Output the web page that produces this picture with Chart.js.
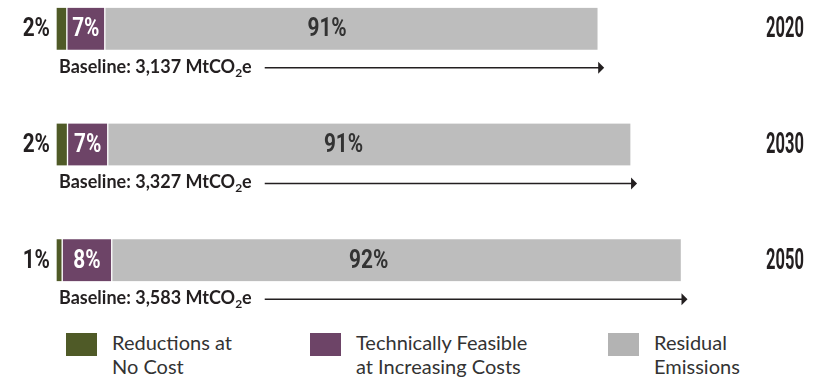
<!DOCTYPE html>
<html>
<head>
<meta charset="utf-8">
<script src="https://cdn.jsdelivr.net/npm/chart.js@4.4.1/dist/chart.umd.min.js"></script>
<style>
  body { margin: 0; background: #fff; width: 817px; height: 383px; overflow: hidden; position: relative; }
  #wrap { position: absolute; left: 0; top: -29px; width: 817px; height: 347px; }
  .key { position: absolute; top: 333px; font-family: Lato, 'Open Sans', sans-serif; font-size: 20px; line-height: 24px; color: #333; }
  .key span.sw { position: absolute; left: 0; top: 0; width: 31px; height: 23px; }
  .key div { position: absolute; left: 46px; top: -3px; white-space: nowrap; }
</style>
</head>
<body>
<div id="wrap"><canvas id="chart"></canvas></div>
<div id="legend"></div>
<script>
// Chart data
const years = ['2020', '2030', '2050'];
const seriesNames = ['Reductions at No Cost', 'Technically Feasible at Increasing Costs', 'Residual Emissions'];
const legendLines = [['Reductions at', 'No Cost'], ['Technically Feasible', 'at Increasing Costs'], ['Residual', 'Emissions']];
const baselines = [3137, 3327, 3583]; // MtCO2e
const noCostPct = [2, 2, 1];
const feasiblePct = [7, 7, 8];
const residualPct = [91, 91, 92];

const colors = ['#4f5a27', '#6d4467', '#bdbdbd'];
const legendColors = ['#4f5a27', '#6d4467', '#b3b3b3'];
const dark = '#231f20';

function share(pcts) {
    return baselines.map((b, i) => b * pcts[i] / 100);
}

// draw text squeezed horizontally (the original uses a condensed face)
function condensed(ctx, text, x, y, align, sx) {
    ctx.save();
    ctx.translate(x, y);
    ctx.scale(sx, 1);
    ctx.textAlign = align;
    ctx.fillText(text, 0, 0);
    ctx.restore();
}

// Percent labels, baseline text, arrows and year labels
const labelPlugin = {
    id: 'barLabels',
    afterDatasetsDraw(chart) {
        const ctx = chart.ctx;
        const ys = chart.scales.y;
        ctx.save();
        ctx.textBaseline = 'middle';
        years.forEach((yr, i) => {
            const green = chart.getDatasetMeta(0).data[i];
            const purple = chart.getDatasetMeta(1).data[i];
            const grey = chart.getDatasetMeta(2).data[i];

            ctx.font = 'bold 26px Roboto, sans-serif';
            ctx.fillStyle = dark;
            condensed(ctx, noCostPct[i] + '%', green.base - 6, green.y + 1, 'right', 0.8);
            ctx.fillStyle = '#fff';
            condensed(ctx, feasiblePct[i] + '%', (purple.base + purple.x) / 2, purple.y + 1, 'center', 0.8);
            ctx.fillStyle = '#333';
            condensed(ctx, residualPct[i] + '%', (green.base + grey.x) / 2, grey.y + 1, 'center', 0.8);

            // year on the right
            ctx.fillStyle = dark;
            ctx.font = 'bold 30px Roboto, sans-serif';
            condensed(ctx, yr, 766, ys.getPixelForValue(i) + 1, 'left', 0.55);

            // baseline label with subscript
            const ly = grey.y + grey.height / 2 + 17;
            let x = green.base + 3;
            ctx.textAlign = 'left';
            ctx.font = 'bold 18px Lato, sans-serif';
            const main = 'Baseline: ' + baselines[i].toLocaleString('en-US') + ' MtCO';
            ctx.fillText(main, x, ly);
            x += ctx.measureText(main).width;
            ctx.font = 'bold 12px Lato, sans-serif';
            ctx.fillText('2', x, ly + 6);
            x += ctx.measureText('2').width;
            ctx.font = 'bold 18px Lato, sans-serif';
            ctx.fillText('e', x, ly);
            x += ctx.measureText('e').width;

            const tip = grey.x + 6;
            ctx.strokeStyle = dark;
            ctx.lineWidth = 1.5;
            ctx.beginPath();
            ctx.moveTo(x + 13, ly + 1);
            ctx.lineTo(tip - 5, ly + 1);
            ctx.stroke();
            ctx.beginPath();
            ctx.moveTo(tip, ly + 1);
            ctx.lineTo(tip - 6, ly - 5);
            ctx.lineTo(tip - 6, ly + 7);
            ctx.closePath();
            ctx.fill();
        });
        ctx.restore();
    }
};

const pcts = [noCostPct, feasiblePct, residualPct];

function drawChart() {
    const ctx = document.getElementById('chart').getContext('2d');
    new Chart(ctx, {
        type: 'bar',
        data: {
            labels: years,
            datasets: seriesNames.map((name, k) => ({
                label: name,
                data: share(pcts[k]),
                backgroundColor: colors[k],
                borderColor: '#fff',
                borderWidth: { left: 1, right: 1, top: 0, bottom: 0 },
                borderSkipped: false,
                barThickness: 42
            }))
        },
        options: {
            indexAxis: 'y',
            responsive: true,
            maintainAspectRatio: false,
            animation: false,
            layout: { padding: { left: 56, right: 61, top: 0, bottom: 0 } },
            plugins: { legend: { display: false }, tooltip: { enabled: false } },
            scales: {
                x: { stacked: true, display: false, min: 0, max: 4050 },
                y: { stacked: true, display: false }
            }
        },
        plugins: [labelPlugin]
    });
}

// Legend below the chart
const legendLeft = [66, 310, 608];
const legend = document.getElementById('legend');
legendLines.forEach((lines, k) => {
    const item = document.createElement('div');
    item.className = 'key';
    item.style.left = legendLeft[k] + 'px';
    item.innerHTML = '<span class="sw" style="background:' + legendColors[k] + '"></span><div>' + lines.join('<br>') + '</div>';
    legend.appendChild(item);
});

// make sure the canvas fonts are ready before drawing
Promise.all([
    document.fonts.load('bold 26px Roboto'),
    document.fonts.load('bold 18px Lato')
]).then(drawChart, drawChart);
</script>
</body>
</html>
